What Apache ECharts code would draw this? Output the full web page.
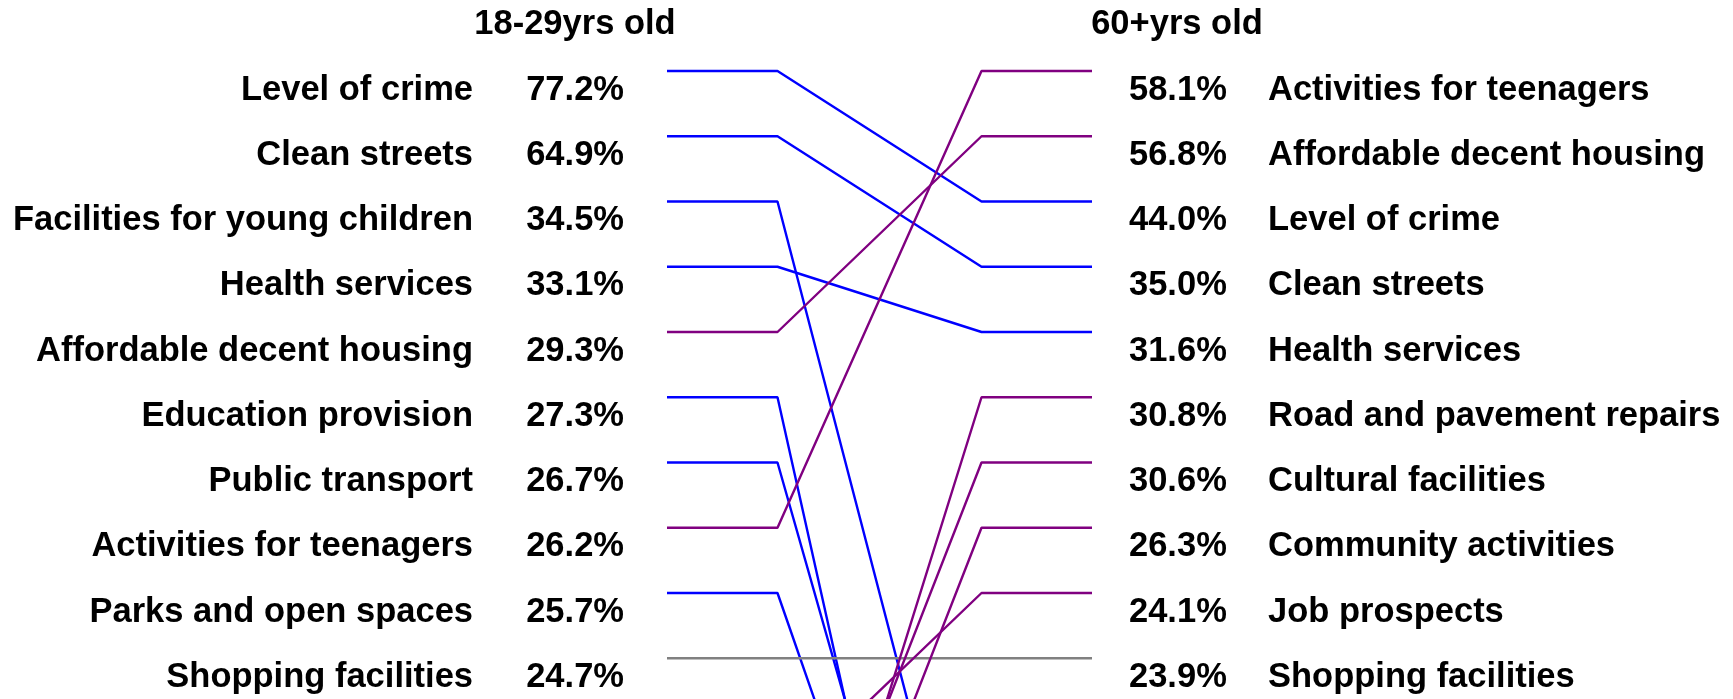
<!DOCTYPE html>
<html>
<head>
<meta charset="utf-8">
<script src="https://cdn.jsdelivr.net/npm/echarts@6/dist/echarts.min.js"></script>
<style>
html,body{margin:0;padding:0;background:#fff;}
#chart{width:1733px;height:699px;}
</style>
</head>
<body>
<div id="chart"></div>
<script>
// ---- Data ----
const groupLeft = '18-29yrs old';
const groupRight = '60+yrs old';

const leftNames = ['Level of crime', 'Clean streets', 'Facilities for young children', 'Health services',
  'Affordable decent housing', 'Education provision', 'Public transport', 'Activities for teenagers',
  'Parks and open spaces', 'Shopping facilities'];
const leftValues = [77.2, 64.9, 34.5, 33.1, 29.3, 27.3, 26.7, 26.2, 25.7, 24.7];

const rightNames = ['Activities for teenagers', 'Affordable decent housing', 'Level of crime', 'Clean streets',
  'Health services', 'Road and pavement repairs', 'Cultural facilities', 'Community activities',
  'Job prospects', 'Shopping facilities'];
const rightValues = [58.1, 56.8, 44.0, 35.0, 31.6, 30.8, 30.6, 26.3, 24.1, 23.9];

// estimated (off-screen) rank positions of items outside the other group's top ten (0-based)
const hiddenRankInRight = {
  'Facilities for young children': 14,
  'Education provision': 19,
  'Public transport': 17,
  'Parks and open spaces': 17
};
const hiddenRankInLeft = {
  'Road and pavement repairs': 15,
  'Cultural facilities': 14,
  'Community activities': 15,
  'Job prospects': 11
};

// ---- Build ----
const xStops = [0, 0.26, 0.74, 1];
const colorDown = '#0000ff', colorUp = '#800080', colorSame = '#808080';

const allNames = leftNames.concat(rightNames.filter(n => leftNames.indexOf(n) < 0));
const series = allNames.map(name => {
  const li = leftNames.indexOf(name);
  const ri = rightNames.indexOf(name);
  const lr = li >= 0 ? li : hiddenRankInLeft[name];
  const rr = ri >= 0 ? ri : hiddenRankInRight[name];
  const color = rr > lr ? colorDown : (rr < lr ? colorUp : colorSame);
  return {
    type: 'line',
    name: name,
    silent: true,
    symbol: 'none',
    clip: false,
    animation: false,
    lineStyle: { color: color, width: 2.4 },
    itemStyle: { color: color },
    data: [[xStops[0], lr], [xStops[1], lr], [xStops[2], rr], [xStops[3], rr]]
  };
});

const font = 'Liberation Sans, Arial, sans-serif';
const txt = { fontSize: 34.5, fontWeight: 'bold', color: '#000', fontFamily: font };
const rowPx = 65.25;
const axisMax = 9.5;

const chart = echarts.init(document.getElementById('chart'), null, { renderer: 'canvas' });
chart.setOption({
  backgroundColor: '#fff',
  animation: false,
  grid: { left: 667, right: 641, top: 71, height: axisMax * rowPx, containLabel: false, outerBoundsMode: 'none' },
  xAxis: { type: 'value', min: 0, max: 1, show: false },
  yAxis: [
    {
      type: 'value', inverse: true, min: 0, max: axisMax, interval: 1, position: 'left',
      axisLine: { show: false }, axisTick: { show: false }, splitLine: { show: false },
      axisLabel: {
        margin: 43,
        padding: [38, 0, 0, 0],
        showMinLabel: true,
        hideOverlap: false,
        formatter: v => {
          const i = Math.round(v);
          return (Math.abs(v - i) < 1e-6 && i < leftNames.length) ? '{n|' + leftNames[i] + '}{v|' + leftValues[i].toFixed(1) + '%}' : '';
        },
        rich: {
          n: Object.assign({}, txt),
          v: Object.assign({}, txt, { width: 151, align: 'right' })
        }
      }
    },
    {
      type: 'value', inverse: true, min: 0, max: axisMax, interval: 1, position: 'right',
      axisLine: { show: false }, axisTick: { show: false }, splitLine: { show: false },
      axisLabel: {
        margin: 37,
        padding: [38, 0, 0, 0],
        showMinLabel: true,
        hideOverlap: false,
        formatter: v => {
          const i = Math.round(v);
          return (Math.abs(v - i) < 1e-6 && i < rightNames.length) ? '{v|' + rightValues[i].toFixed(1) + '%}{n|' + rightNames[i] + '}' : '';
        },
        rich: {
          v: Object.assign({}, txt, { width: 139, align: 'left' }),
          n: Object.assign({}, txt)
        }
      }
    }
  ],
  graphic: [
    { type: 'text', x: 575, y: 24, style: { text: groupLeft, fontSize: 34.5, fontWeight: 'bold', fontFamily: font, fill: '#000', align: 'center', verticalAlign: 'middle', textAlign: 'center', textVerticalAlign: 'middle' } },
    { type: 'text', x: 1177, y: 24, style: { text: groupRight, fontSize: 34.5, fontWeight: 'bold', fontFamily: font, fill: '#000', align: 'center', verticalAlign: 'middle', textAlign: 'center', textVerticalAlign: 'middle' } }
  ],
  series: series
});
</script>
</body>
</html>
